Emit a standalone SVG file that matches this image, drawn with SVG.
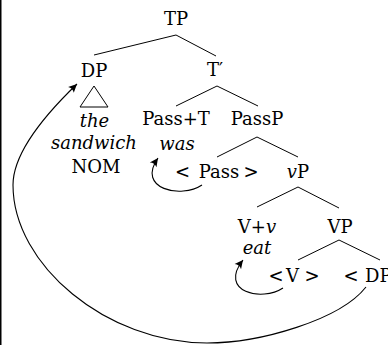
<svg xmlns="http://www.w3.org/2000/svg" width="388" height="345" viewBox="0 0 388 345">
  <style>
    .lbl { font-family: 'DejaVu Serif', 'Liberation Serif', serif; font-size: 18px; fill: #000; text-anchor: middle; }
    .it { font-style: italic; }
    .edge { stroke: #000; stroke-width: 1; fill: none; }
    .move { stroke: #000; stroke-width: 1.1; fill: none; marker-end: url(#tip); }
  </style>
  <defs>
    <marker id="tip" markerUnits="userSpaceOnUse" markerWidth="12" markerHeight="12" viewBox="-8 -5 10 10" refX="0" refY="0" orient="auto">
      <path d="M0,0 L-7,-3.4 Q-4.8,0 -7,3.4 Z" fill="#000"/>
    </marker>
  </defs>

  <rect width="388" height="345" fill="#fff"/>
  <!-- left frame rule -->
  <line x1="0.75" y1="0" x2="0.75" y2="345" stroke="#000" stroke-width="1.5"/>

  <!-- tree branches and movement arrows -->
  <g id="connectors">
    <polyline class="edge" points="94,55 176,35 216,56"/>
    <polygon class="edge" points="94,86 80,107 108,107"/>
    <polyline class="edge" points="176,106 217,86 258,106"/>
    <polyline class="edge" points="217,157 257,137 298,157"/>
    <polyline class="edge" points="257,207 298,187 339,208"/>
    <polyline class="edge" points="298,260 339,240 380,260"/>
    <path class="move" d="M202,185 C181,199 136,189 158,158"/>
    <path class="move" d="M283,288 C262,302 218,292 243,260"/>
    <path class="move" d="M366,287 C340,320 260,343 207,343 C107,343 13,265 13,185 C13,150 50,110 77,84"/>
  </g>

  <g class="lbl">
    <g id="TP"><text x="176" y="25">TP</text></g>
    <g id="DP">
      <text x="94" y="77">DP</text>
      <text class="it" x="94.5" y="127">the</text>
      <text class="it" x="94" y="149">sandwich</text>
      <text x="96" y="173">NOM</text>
    </g>
    <g id="Tbar"><text x="215" y="76">T′</text></g>
    <g id="PassT">
      <text x="176" y="125">Pass+T</text>
      <text class="it" x="177" y="150">was</text>
    </g>
    <g id="PassP"><text x="257" y="125">PassP</text></g>
    <g id="PassTrace"><text y="178"><tspan x="182.5">&lt;</tspan><tspan x="219">Pass</tspan><tspan x="251">&gt;</tspan></text></g>
    <g id="vP"><text x="298" y="178"><tspan class="it">v</tspan>P</text></g>
    <g id="Vv">
      <text x="257" y="233">V+<tspan class="it">v</tspan></text>
      <text class="it" x="257" y="254">eat</text>
    </g>
    <g id="VP"><text x="340" y="233">VP</text></g>
    <g id="VTrace"><text y="282"><tspan x="276">&lt;</tspan><tspan x="292.5">V</tspan><tspan x="312">&gt;</tspan></text></g>
    <g id="DPTrace"><text y="282"><tspan x="351">&lt;</tspan><tspan x="365" style="text-anchor:start">DP</tspan></text></g>
  </g>
</svg>
